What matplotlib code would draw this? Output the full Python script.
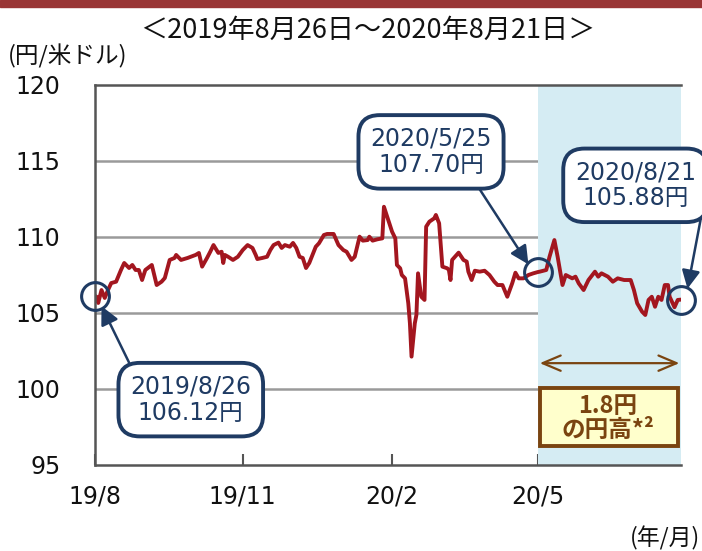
import matplotlib
matplotlib.use("Agg")
import matplotlib.pyplot as plt
import matplotlib.dates as mdates
from matplotlib.patches import Rectangle
import pandas as pd

plt.rcParams['font.family'] = ['DejaVu Sans', 'Noto Sans CJK JP']

# ---- data (USD/JPY) ----
dates = [
    "2019-08-26", "2019-08-27", "2019-08-28", "2019-08-30", "2019-09-01", "2019-09-03", "2019-09-05",
    "2019-09-08", "2019-09-11", "2019-09-13", "2019-09-16", "2019-09-18", "2019-09-20", "2019-09-22",
    "2019-09-24", "2019-09-26", "2019-09-30", "2019-10-03", "2019-10-06", "2019-10-08", "2019-10-11",
    "2019-10-14", "2019-10-15", "2019-10-18", "2019-10-22", "2019-10-27", "2019-10-29", "2019-10-31",
    "2019-11-03", "2019-11-05", "2019-11-07", "2019-11-10", "2019-11-12", "2019-11-13", "2019-11-14",
    "2019-11-16", "2019-11-19", "2019-11-22", "2019-11-25", "2019-11-28", "2019-12-01", "2019-12-03",
    "2019-12-04", "2019-12-07", "2019-12-10", "2019-12-12", "2019-12-14", "2019-12-17", "2019-12-19",
    "2019-12-21", "2019-12-24", "2019-12-26", "2019-12-28", "2019-12-30", "2020-01-01", "2020-01-03",
    "2020-01-05", "2020-01-09", "2020-01-11", "2020-01-14", "2020-01-16", "2020-01-20", "2020-01-23",
    "2020-01-26", "2020-01-28", "2020-01-31", "2020-02-02", "2020-02-05", "2020-02-07", "2020-02-10",
    "2020-02-11", "2020-02-13", "2020-02-16", "2020-02-19", "2020-02-20", "2020-02-24", "2020-02-25",
    "2020-02-27", "2020-02-28", "2020-03-01", "2020-03-02", "2020-03-04", "2020-03-06", "2020-03-07",
    "2020-03-08", "2020-03-10", "2020-03-11", "2020-03-12", "2020-03-14", "2020-03-16", "2020-03-17",
    "2020-03-19", "2020-03-22", "2020-03-23", "2020-03-25", "2020-03-27", "2020-03-30", "2020-03-31",
    "2020-04-01", "2020-04-02", "2020-04-06", "2020-04-09", "2020-04-11", "2020-04-12", "2020-04-14",
    "2020-04-16", "2020-04-19", "2020-04-22", "2020-04-25", "2020-04-28", "2020-04-30", "2020-05-03",
    "2020-05-06", "2020-05-09", "2020-05-11", "2020-05-13", "2020-05-16", "2020-05-19", "2020-05-22",
    "2020-05-25", "2020-05-26", "2020-05-30", "2020-06-01", "2020-06-04", "2020-06-06", "2020-06-09",
    "2020-06-11", "2020-06-15", "2020-06-17", "2020-06-19", "2020-06-22", "2020-06-25", "2020-06-29",
    "2020-07-01", "2020-07-03", "2020-07-07", "2020-07-10", "2020-07-13", "2020-07-17", "2020-07-21",
    "2020-07-23", "2020-07-25", "2020-07-28", "2020-07-30", "2020-08-01", "2020-08-03", "2020-08-05",
    "2020-08-07", "2020-08-09", "2020-08-11", "2020-08-13", "2020-08-14", "2020-08-17", "2020-08-19",
    "2020-08-21",
]
usdjpy = [
    106.12, 106.07, 105.66, 106.51, 105.99, 106.51, 106.97,
    107.06, 107.83, 108.29, 107.96, 108.16, 107.83, 107.83,
    107.17, 107.83, 108.16, 106.84, 107.06, 107.30, 108.49,
    108.62, 108.82, 108.49, 108.62, 108.82, 108.95, 108.05,
    108.62, 109.03, 109.47, 108.95, 109.03, 108.29, 108.82,
    108.70, 108.49, 108.70, 109.14, 109.47, 109.28, 108.82,
    108.55, 108.62, 108.70, 109.14, 109.47, 109.63, 109.28,
    109.47, 109.36, 109.61, 109.28, 108.70, 108.62, 107.96,
    108.29, 109.36, 109.59, 110.13, 110.20, 110.20, 109.47,
    109.14, 109.03, 108.49, 108.70, 110.02, 109.76, 109.80,
    110.02, 109.76, 109.85, 109.91, 111.99, 110.68, 110.35,
    109.91, 108.16, 107.94, 107.50, 107.28, 105.64, 104.32,
    102.13, 104.32, 104.87, 107.61, 106.07, 105.86, 110.68,
    111.01, 111.23, 111.45, 110.90, 108.05, 107.94, 107.83,
    107.17, 108.49, 108.97, 108.49, 108.38, 107.72, 107.17,
    107.78, 107.72, 107.78, 107.50, 107.06, 106.84, 106.84,
    106.07, 106.95, 107.65, 107.28, 107.28, 107.50, 107.61,
    107.70, 107.72, 107.83, 108.70, 109.80, 108.70, 106.84,
    107.50, 107.28, 107.39, 106.95, 106.51, 107.17, 107.72,
    107.39, 107.61, 107.39, 107.06, 107.28, 107.17, 107.17,
    106.51, 105.64, 105.09, 104.87, 105.86, 106.07, 105.41,
    106.07, 105.86, 106.84, 106.84, 106.07, 105.38, 105.86,
    105.88,
]
tick_dates = ["2019-08-26", "2019-11-25", "2020-02-25", "2020-05-25"]
tick_labels = ["19/8", "19/11", "20/2", "20/5"]
y_ticks = [95, 100, 105, 110, 115, 120]

start_date, mid_date, end_date = "2019-08-26", "2020-05-25", "2020-08-21"
start_val, mid_val, end_val = 106.12, 107.70, 105.88

x = pd.to_datetime(dates)
t = lambda s: mdates.date2num(pd.Timestamp(s))

navy = "#1F3B63"
red = "#A3161F"
brown = "#7A4410"

fig = plt.figure(figsize=(7.02, 5.51), dpi=100)
# top decorative bar
fig.patches.append(Rectangle((0, 1 - 7 / 551), 1, 7 / 551, transform=fig.transFigure,
                             color="#993535", zorder=0))

ax = fig.add_axes([95 / 702, 1 - 465 / 551, 586 / 702, 380 / 551])
ax.set_xlim(t(start_date), t(end_date))
ax.set_ylim(95, 120)

for yv in y_ticks[1:-1]:
    ax.axhline(yv, color="#9A9A9A", lw=1.8, zorder=1)
ax.axvspan(t(mid_date), t(end_date), color="#D5ECF3", zorder=2, lw=0)

ax.plot(x, usdjpy, color=red, lw=2.8, zorder=4, solid_joinstyle="round")

for sp in ["left", "bottom", "top"]:
    ax.spines[sp].set_color("#555555")
    ax.spines[sp].set_linewidth(1.8)
    ax.spines[sp].set_zorder(5)
ax.spines["right"].set_visible(False)

ax.set_yticks(y_ticks)
ax.set_yticklabels([str(v) for v in y_ticks], fontsize=17, color="#111111")
ax.tick_params(axis="y", length=0, pad=25)
ax.set_xticks([t(d) for d in tick_dates])
ax.set_xticklabels(tick_labels, fontsize=17, color="#111111")
ax.tick_params(axis="x", direction="in", length=8, width=1.5, color="#555555", pad=14)

# circles on key points
for d, v in [(start_date, start_val), (mid_date, mid_val), (end_date, end_val)]:
    ax.plot([t(d)], [v], marker="o", ms=20, mfc="none", mec=navy, mew=2.2, zorder=6,
            clip_on=False)

box_kw = dict(boxstyle="round,pad=0.5,rounding_size=0.9", fc="white", ec=navy, lw=2.8)
arrow_kw = dict(arrowstyle="-|>,head_length=1.1,head_width=0.55", color=navy, lw=1.8,
                shrinkA=0, shrinkB=0)
fam = ['DejaVu Sans', 'Noto Sans CJK JP']

ax.annotate("", xy=(t("2019-08-30"), 105.45), xytext=(t("2019-09-18"), 101.3),
            arrowprops=arrow_kw, zorder=7)
ax.annotate("2019/8/26\n106.12円", xy=(t("2019-10-24"), 99.3), ha="center", va="center",
            fontsize=17, color=navy, family=fam, bbox=box_kw, linespacing=1.1, zorder=8)

ax.annotate("", xy=(t("2020-05-19"), 108.2), xytext=(t("2020-04-18"), 113.3),
            arrowprops=arrow_kw, zorder=7)
ax.annotate("2020/5/25\n107.70円", xy=(t("2020-03-20"), 115.6), ha="center", va="center",
            fontsize=17, color=navy, family=fam, bbox=box_kw, linespacing=1.1, zorder=8)

ax.annotate("", xy=(t("2020-08-25"), 106.6), xytext=(t("2020-09-02"), 111.1),
            arrowprops=arrow_kw, zorder=7, annotation_clip=False)
ax.annotate("2020/8/21\n105.88円", xy=(t("2020-07-24"), 113.4), ha="center", va="center",
            fontsize=17, color=navy, family=fam, bbox=box_kw, linespacing=1.1, zorder=8,
            annotation_clip=False)

# range arrow and yen-appreciation box
ax.annotate("", xy=(t(mid_date) + 1, 101.7), xytext=(t(end_date) - 1, 101.7),
            arrowprops=dict(arrowstyle="<->,head_length=1.3,head_width=0.55", color=brown,
                            lw=1.6, shrinkA=0, shrinkB=0), zorder=7)
ax.add_patch(Rectangle((t("2020-05-26"), 96.25), t("2020-08-19") - t("2020-05-26"), 3.8,
                       fc="#FFFFCC", ec=brown, lw=2.8, zorder=8))
ax.text(t("2020-07-07"), 98.1, "1.8円\nの円高*²", ha="center", va="center",
        fontsize=17, fontweight="bold", color=brown,
        family=['Noto Sans CJK JP', 'DejaVu Sans'], linespacing=1.0, zorder=9)

fig.text(368 / 702, 1 - 30 / 551, "＜2019年8月26日～2020年8月21日＞", ha="center", va="center",
         fontsize=19.5, family=['Noto Sans CJK JP', 'DejaVu Sans'], color="#111111")
fig.text(8 / 702, 1 - 56 / 551, "(円/米ドル)", ha="left", va="center",
         fontsize=17, family=['Noto Sans CJK JP', 'DejaVu Sans'], color="#111111")
fig.text(700 / 702, 1 - 538 / 551, "(年/月)", ha="right", va="center",
         fontsize=16.5, family=['Noto Sans CJK JP', 'DejaVu Sans'], color="#111111")

fig.savefig("out.png", dpi=100)
